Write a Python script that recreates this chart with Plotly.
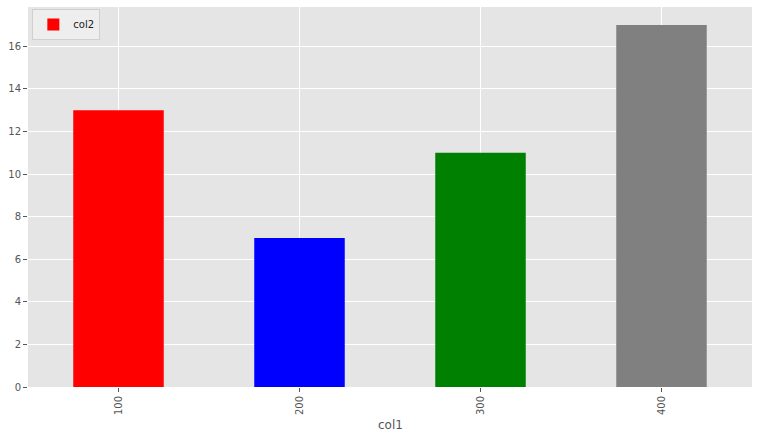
import plotly.graph_objects as go

categories = ['100', '200', '300', '400']
values = [13, 7, 11, 17]
bar_colors = ['red', 'blue', 'green', 'gray']

fig = go.Figure()

fig.add_trace(go.Bar(
    x=categories,
    y=values,
    marker=dict(color=bar_colors, line=dict(width=0)),
    width=0.5,
    name='col2',
    showlegend=True,
))

fig.update_layout(
    width=759,
    height=437,
    margin=dict(l=28, r=7, t=7, b=50),
    plot_bgcolor='#E5E5E5',
    paper_bgcolor='white',
    font=dict(family='DejaVu Sans', size=10, color='#555555'),
    showlegend=True,
    legend=dict(
        x=0.006, y=0.995, xanchor='left', yanchor='top',
        bgcolor='rgba(238,238,238,0.9)',
        bordercolor='#d0d0d0', borderwidth=1,
        font=dict(size=10, color='#222222'),
        itemwidth=30,
        tracegroupgap=0,
    ),
    xaxis=dict(
        type='category',
        range=[-0.5, 3.5],
        showgrid=True, gridcolor='white', gridwidth=1,
        ticks='outside', ticklen=4, tickcolor='#555555',
        tickangle=-90,
        automargin=False,
        zeroline=False,
    ),
    yaxis=dict(
        range=[0, 17.85],
        dtick=2,
        showgrid=True, gridcolor='white', gridwidth=1,
        ticks='outside', ticklen=4, tickcolor='#555555',
        automargin=False,
        zeroline=False,
    ),
    annotations=[dict(
        text='col1', x=0.5, y=-0.1, xref='paper', yref='paper',
        xanchor='center', yanchor='middle', showarrow=False,
        font=dict(size=12, color='#555555'),
    )],
)

# page body has a default 8px margin; drop it so the figure sits at the corner
fig.write_html(
    "out.html",
    config={'displayModeBar': False},
    post_script="document.body.style.margin='0';",
)
